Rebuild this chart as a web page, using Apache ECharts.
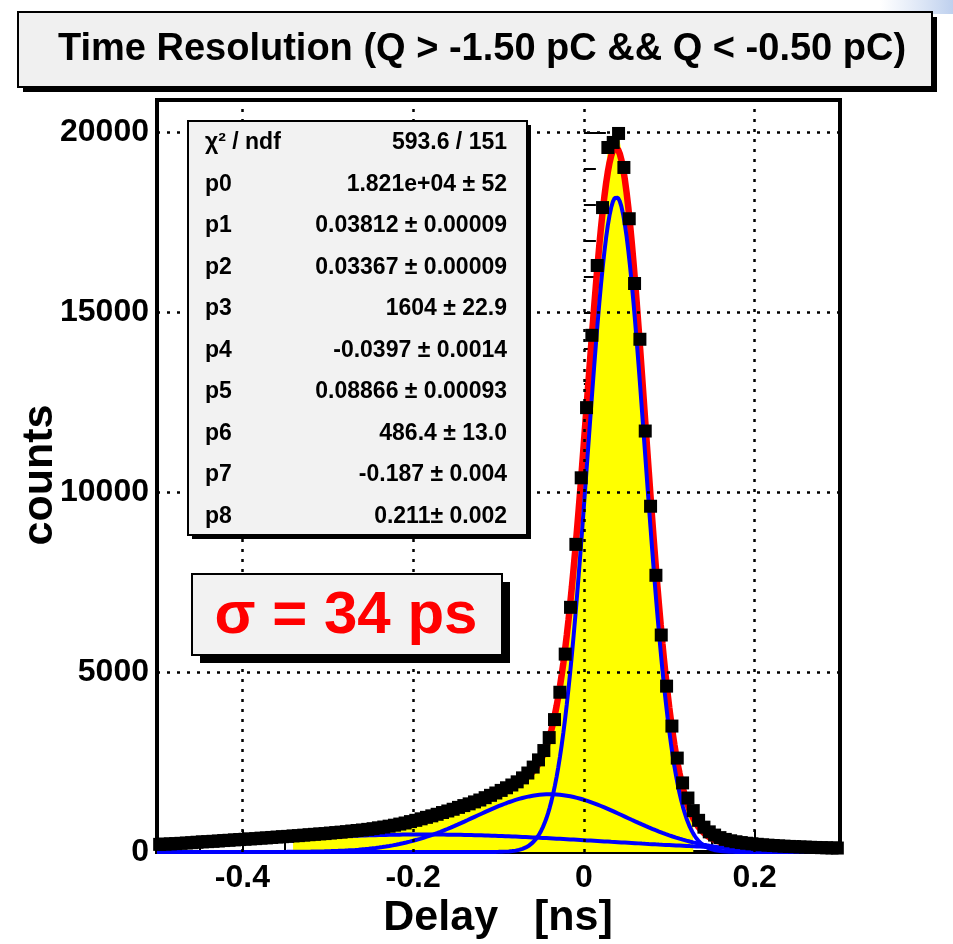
<!DOCTYPE html>
<html>
<head>
<meta charset="utf-8">
<title>Time Resolution</title>
<script src="https://cdn.jsdelivr.net/npm/echarts@6/dist/echarts.min.js"></script>
<style>
  html, body { margin: 0; padding: 0; background: #fff; }
  #main { width: 953px; height: 944px; }
</style>
</head>
<body>
<div id="main"></div>
<script>
// histogram: 128 bins of 0.00625 ns starting at -0.5 ns
var histLow = -0.5, binWidth = 0.00625;
var counts = [
  212, 220, 226, 233, 241, 250, 259, 271, 282, 288,
  297, 306, 318, 326, 337, 346, 354, 364, 372, 385,
  392, 404, 415, 426, 434, 447, 455, 468, 480, 491,
  503, 512, 527, 540, 552, 566, 583, 597, 612, 629,
  648, 672, 694, 718, 745, 776, 806, 845, 880, 922,
  963, 1005, 1048, 1097, 1140, 1188, 1240, 1290, 1338, 1392,
  1445, 1510, 1575, 1640, 1712, 1785, 1862, 1950, 2060, 2195,
  2360, 2560, 2820, 3180, 3680, 4440, 5500, 6800, 8550, 10400,
  12350, 14360, 16300, 17910, 19580, 19720, 19970, 19025, 17600, 15800,
  14250, 11700, 9610, 7690, 6030, 4610, 3500, 2610, 1920, 1500,
  1150, 880, 690, 560, 470, 400, 350, 312, 285, 262,
  243, 228, 214, 200, 190, 180, 170, 162, 155, 148,
  141, 136, 130, 126, 121, 117, 113, 110
];
// yellow filled part of the histogram (bin indices)
var fillFirstBin = 25, fillLastBin = 100;

// fit parameters [amplitude, mean, sigma]
var gaus1 = [18210, 0.03812, 0.03367];
var gaus2 = [1604, -0.0397, 0.08866];
var gaus3 = [486.4, -0.187, 0.211];

var xTicks = [-0.4, -0.2, 0, 0.2];
var yTicks = [0, 5000, 10000, 15000, 20000];

var titleText = 'Time Resolution (Q > -1.50 pC && Q < -0.50 pC)';
var statLabels = ['χ² / ndf', 'p0', 'p1', 'p2', 'p3', 'p4', 'p5', 'p6', 'p7', 'p8'];
var statValues = ['593.6 / 151', '1.821e+04 ± 52', '0.03812 ± 0.00009', '0.03367 ± 0.00009',
  '1604 ± 22.9', '-0.0397 ± 0.0014', '0.08866 ± 0.00093', '486.4 ± 13.0',
  '-0.187 ± 0.004', '0.211± 0.002'];
var sigmaText = 'σ = 34 ps';

var FONT = '"Liberation Sans", Arial, Helvetica, sans-serif';

function gaus(x, p) {
  var u = (x - p[1]) / p[2];
  return p[0] * Math.exp(-0.5 * u * u);
}

var histPoints = counts.map(function (c, i) { return [histLow + (i + 0.5) * binWidth, c]; });
var fillPoints = histPoints.slice(fillFirstBin, fillLastBin + 1);

var curveTotal = [], curve1 = [], curve2 = [], curve3 = [];
for (var i = 0; i <= 400; i++) {
  var x = -0.5 + i * 0.002;
  var a = gaus(x, gaus1), b = gaus(x, gaus2), c = gaus(x, gaus3);
  curve1.push([x, a]); curve2.push([x, b]); curve3.push([x, c]);
  curveTotal.push([x, a + b + c]);
}

var chart = echarts.init(document.getElementById('main'));

var graphics = [
  { type: 'rect', left: 880, top: 0, shape: { width: 73, height: 14 }, z: 90,
    style: { fill: new echarts.graphic.LinearGradient(0, 0, 1, 0, [
      { offset: 0, color: 'rgba(200,215,240,0)' }, { offset: 1, color: 'rgba(190,208,238,1)' }]) } },
  // title box
  { type: 'rect', shape: { x: 23, y: 17, width: 914, height: 75 }, style: { fill: '#000' }, z: 100 },
  { type: 'rect', shape: { x: 18, y: 12, width: 914, height: 75 }, style: { fill: '#f0f0f0', stroke: '#000', lineWidth: 2 }, z: 101 },
  { type: 'text', x: 482, y: 50, z: 102,
    style: { text: titleText, font: 'bold 38px ' + FONT, fill: '#000', align: 'center', verticalAlign: 'middle' } },
  // stats box
  { type: 'rect', shape: { x: 192, y: 125, width: 339, height: 414 }, style: { fill: '#000' }, z: 100 },
  { type: 'rect', shape: { x: 188, y: 121, width: 339, height: 414 }, style: { fill: '#f2f2f2', stroke: '#000', lineWidth: 2 }, z: 101 },
  // sigma box
  { type: 'rect', shape: { x: 200, y: 582, width: 310, height: 81 }, style: { fill: '#000' }, z: 100 },
  { type: 'rect', shape: { x: 192, y: 574, width: 310, height: 81 }, style: { fill: '#f2f2f2', stroke: '#000', lineWidth: 2 }, z: 101 },
  { type: 'text', x: 346, y: 616, z: 102,
    style: { text: sigmaText, font: 'bold 60px ' + FONT, fill: '#ff0000', align: 'center', verticalAlign: 'middle' } },
  // axis titles
  { type: 'text', x: 40, y: 475, rotation: Math.PI / 2, z: 102,
    style: { text: 'counts', font: 'bold 43px ' + FONT, fill: '#000', align: 'center', verticalAlign: 'middle' } },
  { type: 'text', x: 498, y: 918, z: 102,
    style: { text: 'Delay   [ns]', font: 'bold 43px ' + FONT, fill: '#000', align: 'center', verticalAlign: 'middle' } }
];
statLabels.forEach(function (t, i) {
  var y = 143 + i * 41.5;
  graphics.push({ type: 'text', x: 205, y: y, z: 102,
    style: { text: t, font: 'bold 23px ' + FONT, fill: '#000', align: 'left', verticalAlign: 'middle' } });
  graphics.push({ type: 'text', x: 507, y: y, z: 102,
    style: { text: statValues[i], font: 'bold 23px ' + FONT, fill: '#000', align: 'right', verticalAlign: 'middle' } });
});

function onTick(v, step) {
  return Math.abs(v / step - Math.round(v / step)) < 1e-6;
}

var option = {
  animation: false,
  backgroundColor: '#fff',
  grid: { left: 157, right: 113, top: 100, bottom: 92, show: true, borderColor: '#000', borderWidth: 4, backgroundColor: '#fff' },
  xAxis: [{
    type: 'value', min: -0.5, max: 0.3, interval: 0.1, position: 'bottom',
    axisLine: { show: false }, splitLine: { show: false },
    axisTick: { show: true, inside: true, length: 22, customValues: xTicks, lineStyle: { color: '#000', width: 2 } },
    axisLabel: { customValues: xTicks, color: '#000', fontSize: 32, fontWeight: 'bold', fontFamily: FONT, margin: 10,
      formatter: function (v) { return onTick(v, 0.2) ? String(Math.round(v * 10) / 10) : ''; } }
  }, {
    type: 'value', min: -0.5, max: 0.3, interval: 0.05, position: 'bottom',
    axisLine: { show: false }, splitLine: { show: false }, axisLabel: { show: false },
    axisTick: { show: true, inside: true, length: 12, lineStyle: { color: '#000', width: 2 } }
  }],
  yAxis: [{
    type: 'value', min: 0, max: 20900, interval: 5000, position: 'left',
    axisLine: { show: false }, splitLine: { show: false },
    axisTick: { show: true, inside: true, length: 22, customValues: yTicks, lineStyle: { color: '#000', width: 2 } },
    axisLabel: { customValues: yTicks, color: '#000', fontSize: 32, fontWeight: 'bold', fontFamily: FONT, margin: 8,
      formatter: function (v) { return onTick(v, 5000) ? String(v) : ''; } }
  }, {
    type: 'value', min: 0, max: 20900, interval: 1000, position: 'left',
    axisLine: { show: false }, splitLine: { show: false }, axisLabel: { show: false },
    axisTick: { show: true, inside: true, length: 12, lineStyle: { color: '#000', width: 2 } }
  }],
  series: [{
    name: 'grid', type: 'line', z: 1, data: [[-0.5, 0]], showSymbol: false, lineStyle: { opacity: 0 },
    markLine: {
      silent: true, symbol: 'none', label: { show: false },
      lineStyle: { color: '#000', type: [3, 7], width: 2.5 },
      data: xTicks.map(function (v) { return { xAxis: v }; })
        .concat(yTicks.slice(1).map(function (v) { return { yAxis: v }; }))
    }
  }, {
    name: 'fill', type: 'line', z: 2, data: fillPoints, showSymbol: false,
    lineStyle: { width: 0, opacity: 0 }, areaStyle: { color: '#ffff00', opacity: 1 }
  }, {
    name: 'total', type: 'line', z: 3, data: curveTotal, showSymbol: false,
    lineStyle: { color: '#ff0000', width: 6.5 }
  }, {
    name: 'g1', type: 'line', z: 4, data: curve1, showSymbol: false, lineStyle: { color: '#0000ff', width: 4 }
  }, {
    name: 'g2', type: 'line', z: 4, data: curve2, showSymbol: false, lineStyle: { color: '#0000ff', width: 4 }
  }, {
    name: 'g3', type: 'line', z: 4, data: curve3, showSymbol: false, lineStyle: { color: '#0000ff', width: 4 }
  }, {
    name: 'counts', type: 'scatter', z: 5, data: histPoints, symbol: 'rect', symbolSize: 13,
    itemStyle: { color: '#000', opacity: 1 }
  }],
  graphic: graphics
};

chart.setOption(option);
</script>
</body>
</html>
